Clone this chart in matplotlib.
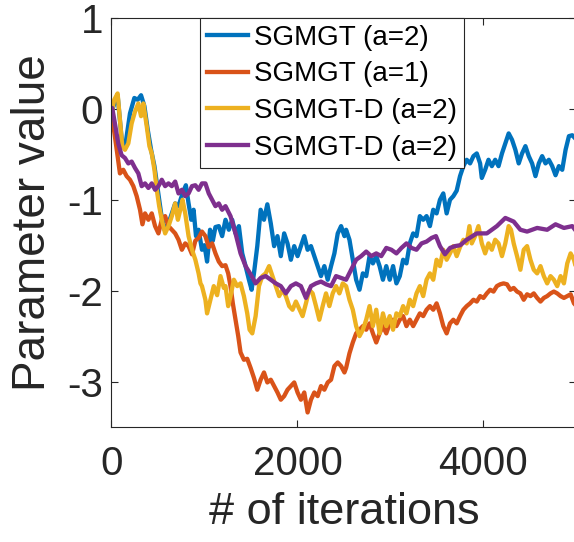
import numpy as np
import matplotlib
matplotlib.use("Agg")
import matplotlib.pyplot as plt

plt.rcParams['font.family'] = ['Liberation Sans', 'DejaVu Sans']
plt.rcParams['axes.unicode_minus'] = False

# valores (iteração, valor do parâmetro)
blue_x = [0, 66, 116, 152, 199, 246, 282, 318, 354, 390, 426, 462, 498, 534, 570, 613, 649, 685,
          721, 764, 800, 829, 858, 883, 909, 937, 973, 1000, 1028, 1060, 1090, 1118, 1154, 1190,
          1226, 1262, 1298, 1334, 1370, 1406, 1442, 1478, 1507, 1532, 1568, 1604, 1640, 1676,
          1713, 1749, 1785, 1821, 1857, 1893, 1929, 1965, 2001, 2037, 2073, 2109, 2145, 2181,
          2217, 2253, 2289, 2325, 2361, 2397, 2433, 2469, 2505,
          2523, 2559, 2595, 2631, 2667, 2703, 2739, 2775, 2811, 2847, 2883, 2919, 2955, 2992,
          3028, 3064, 3100, 3136, 3172, 3208, 3244, 3280, 3316, 3352, 3388, 3424, 3460, 3496,
          3532, 3568, 3604, 3640, 3676,
          3712, 3748, 3784, 3820, 3856, 3892, 3928, 3964, 3982, 4018, 4054, 4090, 4126, 4162,
          4199, 4235, 4271, 4307, 4343, 4379, 4415, 4451, 4487, 4523, 4559, 4595, 4631, 4667,
          4703, 4739, 4775, 4811, 4847, 4883, 4919, 4955, 5000]
blue_y = [-0.03, 0.15, -0.40, -0.38, -0.05, 0.12, 0.10, 0.15, 0.03, -0.23, -0.45, -0.63, -0.89,
          -1.15, -1.33, -1.26, -1.15, -1.04, -1.07, -0.93, -0.84, -1.04, -1.22, -1.11, -1.40,
          -1.33, -1.55, -1.50, -1.68, -1.33, -1.45, -1.30, -1.29, -1.40,
          -1.22, -1.33, -1.22, -1.37, -1.29, -1.59, -1.73, -1.88, -1.99, -1.81, -1.51, -1.11,
          -1.22, -1.05, -1.26, -1.51, -1.40, -1.62, -1.37, -1.48, -1.66, -1.51, -1.62, -1.51,
          -1.40, -1.55, -1.51, -1.62, -1.73, -1.84, -1.73, -1.88, -1.73, -1.59, -1.37, -1.29,
          -1.40,
          -1.33, -1.44, -1.66, -1.88, -1.99, -1.81, -1.84, -1.62, -1.70, -1.62, -1.73, -1.88,
          -1.73, -1.88, -1.73, -1.92, -1.84, -1.66, -1.70, -1.48, -1.37, -1.40, -1.18, -1.22,
          -1.18, -1.29, -1.11, -1.15, -1.00, -0.93, -1.15, -1.00, -0.96,
          -0.90, -0.74, -0.63, -0.56, -0.60, -0.52, -0.49, -0.60, -0.76, -0.67, -0.56, -0.63,
          -0.56, -0.63, -0.49, -0.38, -0.27, -0.34, -0.45, -0.60, -0.49, -0.41, -0.52, -0.60,
          -0.74, -0.60, -0.52, -0.60, -0.56, -0.63, -0.73, -0.63, -0.67, -0.45, -0.30, -0.29,
          -0.34]

red_x = [0, 37, 66, 91, 127, 163, 199, 235, 271, 307, 333, 361, 397, 433, 469, 505, 541, 577,
         613, 649, 685, 721, 757, 793, 829, 866, 902, 937, 973, 1010, 1046, 1082, 1118, 1154,
         1190, 1226, 1255, 1280, 1305, 1334, 1363, 1388, 1424, 1460, 1496, 1532, 1568, 1604,
         1640, 1676, 1713, 1749, 1785, 1821, 1857, 1893, 1929, 1965, 2001, 2037, 2073, 2109,
         2145, 2181, 2217, 2253, 2289, 2325, 2361, 2397, 2433, 2469, 2505,
         2523, 2559, 2595, 2631, 2667, 2703, 2739, 2775, 2811, 2847, 2883, 2919, 2955, 2992,
         3028, 3064, 3100, 3136, 3172, 3208, 3244, 3280, 3316, 3352, 3388, 3424, 3460, 3496,
         3532, 3568, 3604, 3640, 3676,
         3712, 3748, 3784, 3820, 3856, 3892, 3928, 3964, 4000, 4036, 4072, 4108, 4144, 4180,
         4216, 4253, 4289, 4325, 4361, 4397, 4433, 4469, 4505, 4541, 4577, 4613, 4649, 4685,
         4721, 4757, 4793, 4829, 4865, 4901, 4937, 4973, 5000]
red_y = [-0.03, -0.30, -0.52, -0.71, -0.67, -0.74, -0.78, -0.85, -0.96, -1.11, -1.27, -1.15,
         -1.22, -1.15, -1.29, -1.37, -1.22, -1.18, -1.29, -1.33, -1.37, -1.44, -1.55, -1.48,
         -1.51, -1.60, -1.45, -1.42, -1.35, -1.40, -1.52, -1.48, -1.59, -1.68, -1.73,
         -1.72, -1.81, -1.95, -2.14, -2.32, -2.50, -2.68, -2.76, -2.75, -2.85, -2.96, -3.09,
         -2.98, -2.90, -3.01, -2.98, -3.05, -3.12, -3.20, -3.16, -3.09, -3.05, -3.01, -3.12,
         -3.20, -3.12, -3.34, -3.20, -3.12, -3.16, -3.05, -3.09, -3.01, -2.98, -2.83, -2.79,
         -2.83, -2.90,
         -2.85, -2.69, -2.57, -2.47, -2.43, -2.39, -2.43, -2.36, -2.47, -2.57, -2.47, -2.39,
         -2.47, -2.36, -2.32, -2.39, -2.32, -2.28, -2.39, -2.32, -2.39, -2.32, -2.25, -2.28,
         -2.21, -2.17, -2.21, -2.14, -2.25, -2.39, -2.47, -2.36, -2.32,
         -2.36, -2.28, -2.21, -2.17, -2.14, -2.10, -2.12, -2.06, -2.08, -2.03, -1.99, -2.01,
         -1.95, -1.93, -1.92, -1.93, -1.99, -1.97, -2.01, -2.03, -2.10, -2.04, -2.06, -2.03,
         -2.08, -2.12, -2.08, -2.06, -2.03, -2.01, -2.03, -2.06, -2.08, -2.06, -2.04, -2.14,
         -2.17]

yellow_x = [0, 30, 66, 91, 116, 145, 181, 217, 253, 289, 318, 343, 379, 408, 433, 462, 487,
            513, 541, 577, 613, 649, 685, 714, 740, 764, 793, 829, 866, 902, 937, 957, 973,
            1010, 1028, 1064, 1100, 1136, 1172, 1208,
            1226, 1255, 1280, 1316, 1352, 1388, 1424, 1460, 1485, 1514, 1550, 1586, 1622, 1658,
            1695, 1731, 1767, 1803, 1839, 1875, 1911, 1947, 1983, 2019, 2055, 2091, 2127, 2163,
            2199, 2235, 2271, 2307, 2343, 2379, 2415, 2451, 2487,
            2523, 2559, 2595, 2631, 2667, 2703, 2739, 2775, 2811, 2847, 2883, 2919, 2955, 2992,
            3028, 3064, 3100, 3136, 3172, 3208, 3244, 3280, 3316, 3352, 3388, 3424, 3460, 3496,
            3532, 3568, 3604, 3640, 3676,
            3712, 3748, 3784, 3820, 3849, 3874, 3910, 3946, 3982, 4018, 4054, 4090, 4126, 4162,
            4199, 4235, 4271, 4296, 4325, 4361, 4397, 4433, 4469, 4505, 4541, 4577, 4613, 4649,
            4685, 4721, 4757, 4793, 4829, 4865, 4901, 4937, 4973, 5000]
yellow_y = [-0.05, 0.10, 0.17, -0.12, -0.41, -0.45, -0.38, -0.16, -0.03, 0.06, -0.08, 0.06,
            -0.19, -0.41, -0.49, -0.67, -0.89, -1.07, -1.22, -1.37, -1.29, -1.18, -1.04, -1.22,
            -1.11, -1.00, -1.15, -1.40, -1.55, -1.66, -1.81, -1.92, -1.95, -2.10, -2.25, -2.10,
            -1.95, -2.05, -1.84, -1.97,
            -1.95, -2.17, -2.06, -1.88, -1.95, -1.92, -2.06, -2.25, -2.43, -2.47, -2.28, -1.95,
            -1.84, -1.81, -1.73, -1.84, -1.95, -2.06, -1.99, -2.06, -2.17, -2.21, -2.12, -2.20,
            -2.28, -2.14, -1.99, -2.03, -2.17, -2.32, -2.17, -2.03, -2.17, -2.03, -1.95, -2.03,
            -1.92,
            -1.95, -2.10, -2.21, -2.39, -2.50, -2.43, -2.32, -2.17, -2.39, -2.21, -2.47, -2.25,
            -2.39, -2.28, -2.43, -2.25, -2.28, -2.17, -2.25, -2.10, -2.17, -2.03, -1.95, -2.06,
            -1.88, -1.81, -1.88, -1.66, -1.73, -1.55, -1.66, -1.59, -1.51,
            -1.62, -1.52, -1.44, -1.48, -1.29, -1.48, -1.40, -1.29, -1.48, -1.59, -1.48, -1.55,
            -1.44, -1.48, -1.62, -1.48, -1.29, -1.33, -1.48, -1.62, -1.77, -1.55, -1.51, -1.66,
            -1.77, -1.81, -1.73, -1.84, -1.92, -1.84, -1.88, -1.95, -1.84, -1.92, -1.70, -1.59,
            -1.66, -1.77]

purple_x = [0, 8, 37, 73, 109, 145, 181, 217, 253, 289, 325, 361, 397, 433, 469, 505, 541, 577,
            613, 649, 685, 721, 757, 793, 829, 866, 902, 937, 973, 1010, 1046, 1082, 1118,
            1154, 1190,
            1226, 1280, 1334, 1388, 1442, 1496, 1550, 1604, 1658, 1713, 1767, 1821, 1875, 1929,
            1983, 2037, 2091, 2145, 2199, 2253, 2307, 2361, 2415, 2469,
            2523, 2577, 2631, 2685, 2739, 2793, 2847, 2901, 2955, 3010, 3064, 3118, 3172, 3226,
            3280, 3334, 3388, 3442, 3489, 3532, 3586, 3640, 3694,
            3750, 3820, 3928, 4036, 4144, 4235, 4325, 4397, 4469, 4577, 4685, 4775, 4865, 4955,
            5000]
purple_y = [-0.01, 0.01, -0.16, -0.38, -0.51, -0.54, -0.60, -0.58, -0.65, -0.71, -0.85, -0.82,
            -0.87, -0.82, -0.89, -0.85, -0.78, -0.85, -0.82, -0.85, -0.80, -0.93, -0.89, -0.96,
            -0.93, -0.85, -0.84, -0.89, -0.82, -0.82, -0.93, -1.00, -1.07, -1.04, -1.11,
            -1.07, -1.18, -1.37, -1.59, -1.73, -1.82, -1.92, -1.86, -1.84, -1.88, -1.92, -1.95,
            -2.03, -1.95, -1.92, -1.95, -2.08, -1.95, -1.92, -1.90, -1.93, -1.95, -1.84, -1.86,
            -1.88, -1.77, -1.66, -1.62, -1.57, -1.62, -1.59, -1.62, -1.53, -1.55, -1.59, -1.53,
            -1.48, -1.53, -1.55, -1.48, -1.46, -1.42, -1.40, -1.51, -1.60, -1.53, -1.51,
            -1.50, -1.44, -1.37, -1.37, -1.29, -1.20, -1.24, -1.33, -1.35, -1.31, -1.33, -1.27,
            -1.31, -1.29, -1.35]

series = [
    (blue_x, blue_y, '#0072BD', 'SGMGT (a=2)'),
    (red_x, red_y, '#D95319', 'SGMGT (a=1)'),
    (yellow_x, yellow_y, '#EDB120', 'SGMGT-D (a=2)'),
    (purple_x, purple_y, '#7E2F8E', 'SGMGT-D (a=2)'),
]

fig = plt.figure(figsize=(5.74, 5.42), dpi=100)
ax = fig.add_axes([0.1942, 0.2122, 0.8101, 0.7546])

for xs, ys, cor, nome in series:
    ax.plot(xs, ys, color=cor, linewidth=3.1, label=nome, solid_joinstyle='round')

ax.set_xlim(0, 5000)
ax.set_ylim(-3.5, 1)
ax.set_xticks([0, 2000, 4000])
ax.set_yticks([-3, -2, -1, 0, 1])
ax.tick_params(direction='in', length=5, width=0.8, colors='#262626',
               labelsize=29, top=True, right=True)
ax.tick_params(axis='x', pad=13)
ax.tick_params(axis='y', pad=6)
for s in ax.spines.values():
    s.set_color('#262626')
    s.set_linewidth(0.8)

ax.set_xlabel('# of iterations', fontsize=32.5, color='#262626', labelpad=6.5)
ax.set_ylabel('Parameter value', fontsize=33, color='#262626', labelpad=9)

leg = ax.legend(loc='upper left', bbox_to_anchor=(0.19, 1.0), borderaxespad=0,
                fontsize=20, handlelength=1.5, handletextpad=0.2, labelspacing=0.38,
                borderpad=0.25, fancybox=False, framealpha=1)
leg.get_frame().set_edgecolor('#262626')
leg.get_frame().set_linewidth(0.8)

fig.savefig('out.png', dpi=100)
